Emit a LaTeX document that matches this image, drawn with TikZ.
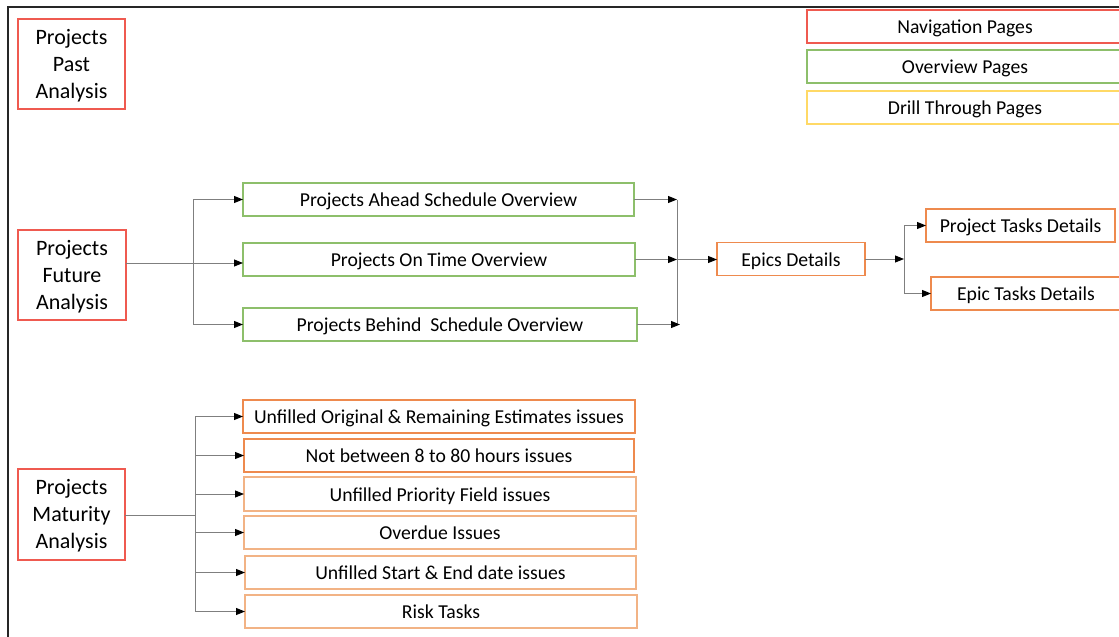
\documentclass[tikz,border=0pt]{standalone}
\usepackage{fontspec}
\setmainfont{Carlito}
\usetikzlibrary{arrows.meta,calc}
\definecolor{navred}{HTML}{EF5A50}
\definecolor{ovgreen}{HTML}{8DBF6B}
\definecolor{drillyellow}{HTML}{FFD966}
\definecolor{drillorange}{HTML}{EE8A4E}
\definecolor{drilllight}{HTML}{F2B385}
\definecolor{wire}{HTML}{7F7F7F}
\newcommand{\topstrut}{\rule{0pt}{18pt}}
\tikzset{
  pagebox/.style={draw, line width=1.1pt, inner sep=0pt, outer sep=0pt, align=center,
    font=\fontsize{19.7}{24}\selectfont, text height=14.4pt, text depth=0pt},
  navbox/.style={draw, line width=1.1pt, inner sep=0pt, outer sep=0pt, align=center,
    draw=navred, minimum width=107pt, minimum height=90pt,
    font=\fontsize{22}{27}\selectfont},
  legnav/.style={pagebox, draw=navred, minimum width=316pt, minimum height=33pt},
  ovbox/.style={pagebox, draw=ovgreen, minimum height=33pt},
  legdrill/.style={pagebox, draw=drillyellow, minimum width=316pt, minimum height=33pt},
  dtbox/.style={pagebox, draw=drillorange, minimum height=33pt},
  dtlight/.style={pagebox, draw=drilllight, minimum height=33pt},
  wireline/.style={draw=wire, line width=0.9pt},
  arr/.style={wireline, -{Triangle[length=9pt,width=7pt,color=black]}},
  frame/.style={draw=black!85, line width=1.4pt}
}
\begin{document}
\begin{tikzpicture}[x=1pt,y=-1pt]
\useasboundingbox (0,0) rectangle (1119,637);
\clip (0,0) rectangle (1119,637);

% outer frame (top and left edges)
\draw[frame] (8,640) -- (8,7) -- (1122,7);

% navigation pages
\node[navbox] (past) at (71.5,64) {\topstrut Projects\\Past\\Analysis};
\node[navbox, minimum width=108pt] (future) at (72,275) {\topstrut Projects\\Future\\Analysis};
\node[navbox, minimum height=91pt] (maturity) at (71.5,514.5) {\topstrut Projects\\Maturity\\Analysis};

% legend
\node[legnav] (lnav) at (965,26.5) {Navigation Pages};
\node[legnav, draw=ovgreen] (lov) at (965,66.5) {Overview Pages};
\node[legdrill] (ldrill) at (965,107.5) {Drill Through Pages};

% overview pages
\node[ovbox, minimum width=391pt] (ahead) at (438.5,199.5) {Projects Ahead Schedule Overview};
\node[ovbox, minimum width=392pt] (ontime) at (439,259.5) {Projects On Time Overview};
\node[ovbox, minimum width=394pt] (behind) at (440,324.5) {Projects Behind\ \ Schedule Overview};

% drill through pages
\node[dtbox, minimum width=148pt] (epics) at (791,259) {Epics Details};
\node[dtbox, minimum width=189pt] (ptasks) at (1020.5,225.5) {Project Tasks Details};
\node[dtbox, minimum width=190pt] (etasks) at (1026,293.5) {Epic Tasks Details};

\node[dtbox, minimum width=392pt] (q1) at (439,416.5) {Unfilled Original \& Remaining Estimates issues};
\node[dtbox, minimum width=390pt] (q2) at (439,455.5) {Not between 8 to 80 hours issues};
\node[dtlight, minimum width=392pt, minimum height=34pt] (q3) at (440,494) {Unfilled Priority Field issues};
\node[dtlight, minimum width=392pt] (q4) at (440,532.5) {Overdue Issues};
\node[dtlight, minimum width=391pt] (q5) at (440.5,572.5) {Unfilled Start \& End date issues};
\node[dtlight, minimum width=392pt] (q6) at (441,611.5) {Risk Tasks};

% branch points
\coordinate (fsplit) at (193,263);
\coordinate (merge) at (677,259.5);
\coordinate (esplit) at (904,259);
\coordinate (msplit) at (195,515);

% future analysis -> overview pages
\draw[wireline] (future.east |- fsplit) -- (fsplit);
\draw[wireline] (fsplit |- ahead.west) -- (fsplit |- behind.west);
\draw[arr] (fsplit) -- (ontime.west |- fsplit);
\draw[arr] (fsplit |- ahead.west) -- (ahead.west);
\draw[arr] (fsplit |- behind.west) -- (behind.west);

% overview pages -> epics details
\draw[wireline] (merge |- ahead.east) -- (merge |- behind.east);
\draw[arr] (ahead.east) -- (merge |- ahead.east);
\draw[arr] (ontime.east) -- (merge);
\draw[arr] (behind.east) -- ([xshift=3pt]merge |- behind.east);
\draw[arr] (merge) -- (epics.west |- merge);

% epics details -> task details
\draw[arr] (epics.east) -- (esplit);
\draw[wireline] (esplit |- ptasks.west) -- (esplit |- etasks.west);
\draw[arr] (esplit |- ptasks.west) -- (ptasks.west);
\draw[arr] (esplit |- etasks.west) -- (etasks.west);

% maturity analysis -> issue pages
\draw[wireline] (maturity.east |- msplit) -- (msplit);
\draw[wireline] (msplit |- q1.west) -- (msplit |- q6.west);
\foreach \q in {q1,q2,q3,q4,q5,q6}
  \draw[arr] (msplit |- \q.west) -- (\q.west);
\end{tikzpicture}
\end{document}
